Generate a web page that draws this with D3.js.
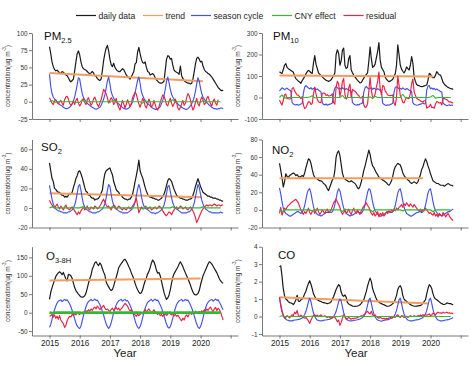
<!DOCTYPE html>
<html><head><meta charset="utf-8">
<script src="https://cdn.jsdelivr.net/npm/d3@7"></script>
<style>body{margin:0;background:#fff}svg{display:block;font-family:"Liberation Sans",Arial,sans-serif}</style>
</head><body><svg id="c" width="474" height="366"></svg>
<script>
// ---------- data (half-month steps from 2015.0 unless noted; CNY arrays are monthly) ----------
const yearTicks = [2015, 2016, 2017, 2018, 2019, 2020, 2021];
const yearLabels = [2015, 2016, 2017, 2018, 2019, 2020];
const legendNames = ["daily data", "trend", "season cycle", "CNY effect", "residual"];

const pm25Daily = [80,70,58,51,47,45,46,44,42,41,44,43,41,39,38,35,31,29,31,33,45,58,70,74,
68,58,51,48,47,46,44,42,41,42,44,42,38,37,34,32,31,33,45,60,70,78,82,74,
62,54,51,56,50,47,45,44,44,46,48,47,43,39,37,35,33,36,40,44,55,57,72,79,
70,62,57,56,58,50,44,43,39,40,41,39,35,32,30,28,27,27,28,30,46,62,67,66,
62,63,53,46,44,43,42,40,52,38,34,31,29,28,27,27,26,27,33,44,55,63,65,62,
58,59,52,47,44,43,41,40,38,36,33,30,27,24,21,19,17,16,17];
const pm25Trend = [[2015, 42], [2020.08, 30]];
const pm25Season = [40,22,12,7,4,2,0,-2,-4,-5,-6,-8,-9,-10,-10,-9,-8,-6,-3,1,7,15,25,35,
33,22,12,6,3,0,-2,-4,-5,-7,-8,-9,-10,-11,-10,-9,-8,-5,-1,4,10,20,30,36,
26,15,9,5,2,0,-2,-3,-5,-7,-8,-10,-10,-11,-10,-9,-7,-4,0,6,13,22,31,36,
27,15,9,5,2,-1,-3,-4,-6,-8,-9,-10,-11,-11,-10,-9,-7,-3,2,9,18,30,36,28,
18,11,7,4,1,-1,-3,-5,-6,-8,-9,-10,-11,-11,-10,-8,-6,-3,1,7,15,26,35,30,
20,12,7,4,1,-1,-3,-5,-6,-8,-9,-10,-10,-11,-10,-10,-9,-9,-10];
const pm25Cny = [0,2,-1,0,0,0,0,0,0,0,0,-1, -1,3,0,0,0,0,0,0,0,0,0,0, -1,2,1,0,0,0,0,0,0,0,0,0,
0,-2,2,0,0,0,0,0,0,0,0,0, 0,3,-1,0,0,0,0,0,0,0,0,0, -1,2,0,0,0,0,0,0,0];
const pm25Resid = [6,2,-2,-4,1,3,-1,-3,0,2,-2,-5,3,7,8,4,-2,-5,-3,1,-4,2,5,-2,
-6,-3,2,5,-1,-4,3,6,0,-5,-2,4,7,2,-4,-7,-2,3,10,18,15,12,6,-2,
2,6,3,-4,-1,5,-3,-8,-12,-5,2,-3,-9,-4,3,-2,-7,-3,6,10,14,11,4,-3,
-8,-2,5,1,-6,-9,-3,4,-1,-8,-5,2,-4,-10,-12,-7,-1,5,10,8,3,-4,
-6,1,5,-2,-7,-3,4,-1,-9,-12,-8,-3,2,-5,-2,6,12,9,3,-6,-12,-8,
-1,5,-3,-6,2,7,3,-4,-2,5,8,2,-3,-6,1,4,-2,-5,3];

const pm10Daily = [120,115,112,130,150,158,140,134,130,126,122,118,100,88,82,76,72,66,78,88,98,110,120,126,
122,115,112,160,195,155,135,115,108,102,96,90,85,80,78,75,78,82,92,100,115,200,222,205,
150,170,220,230,150,135,140,180,195,128,115,104,96,88,80,74,68,70,80,90,100,108,115,170,
235,180,140,145,155,185,215,255,175,140,130,120,95,85,78,74,76,80,85,98,110,150,245,200,
150,132,122,114,125,142,134,128,150,190,160,95,75,60,56,55,52,51,52,54,56,58,80,112,
108,97,92,92,105,120,112,105,104,88,70,62,56,51,47,44,42,40,38];
const pm10Trend = [[2015, 102], [2020.1, 98]];
const pm10Season = [30,38,45,42,36,40,44,38,35,30,-22,-30,-33,-35,-32,-36,-34,-30,-28,20,48,55,50,44,
40,46,38,42,45,36,40,34,30,25,-25,-32,-35,-30,-36,-33,-31,-29,-26,22,45,50,46,40,
44,38,46,40,36,42,38,35,32,28,-24,-30,-34,-36,-33,-35,-30,-28,-25,25,46,52,44,40,
42,46,38,44,40,36,41,37,33,28,-26,-32,-35,-37,-34,-36,-33,-30,-27,24,47,50,45,41,
43,38,45,40,36,42,39,34,31,27,-25,-31,-34,-36,-35,-33,-31,-29,-25,-30,-28,35,52,56,
40,45,38,43,36,40,35,32,28,24,-26,-32,-35,-38,-36,-34,-37,-35,-36];
const pm10Cny = [0,12,-3,0,0,0,0,0,0,0,0,0, 2,8,-2,0,0,0,0,0,0,0,0,0, 0,10,-4,0,0,0,0,0,0,0,0,0,
3,-5,6,0,0,0,0,0,0,0,0,0, 0,15,-2,0,0,0,0,0,0,0,0,0, 2,10,-3,0,0,0,0,0,0];
const pm10Resid = [-12,-25,-35,-14,12,16,-6,-6,-7,-6,42,46,31,21,12,10,4,-6,4,-34,-52,-47,-32,-20,
-20,-33,-28,16,48,17,-7,-20,-23,-24,20,21,19,9,13,7,8,10,17,-23,-31,49,75,64,
5,31,73,89,13,-8,1,44,62,-1,38,33,29,23,13,9,-2,-2,5,-35,-46,-44,-29,30,
93,34,2,1,15,49,74,118,42,12,56,52,30,22,12,10,9,10,12,-26,-37,0,100,59,
8,-5,-22,-25,-10,1,-4,-5,20,64,86,27,10,-3,-8,-11,-16,-19,-22,-15,-15,-50,-45,-43,
-31,-47,-45,-50,-30,-19,-22,-26,-23,-35,-3,-5,-8,-10,-16,-21,-20,-24,-25];

const so2Daily = [46,38,30,27,20,19,17,16,16,14,13,13,11,12,11,13,15,14,16,21,25,30,33,37,
38,35,31,26,21,17,16,13,13,11,10,10,8,9,9,10,12,15,18,28,35,38,39,40,
41,37,34,27,23,19,17,16,13,13,11,10,9,9,8,9,9,11,14,20,27,33,40,49,
38,34,31,26,21,17,14,12,11,11,10,10,9,9,8,8,9,10,12,14,18,23,28,30,
29,27,23,19,16,13,12,11,10,10,9,9,8,8,8,9,9,10,13,17,22,26,30,26,
22,19,16,15,14,13,12,12,11,11,10,10,10,9,9,8,8,7,7];
const so2Trend = [[2015, 15], [2020.05, 11]];
const so2Season = [23,16,9,4,1,-1,-2,-3,-3,-4,-4,-5,-5,-5,-5,-4,-4,-3,-2,0,3,8,15,22,
24,18,10,4,1,-1,-2,-3,-4,-4,-5,-5,-5,-5,-4,-4,-3,-2,-1,1,4,10,18,24,
22,14,7,3,0,-1,-2,-3,-4,-4,-5,-5,-5,-5,-5,-4,-3,-2,0,2,6,12,19,24,
20,12,6,2,0,-1,-2,-3,-4,-5,-5,-5,-6,-5,-5,-4,-3,-2,0,3,8,15,22,23,
17,10,5,2,0,-1,-2,-3,-4,-5,-5,-5,-5,-5,-4,-4,-3,-1,1,5,11,18,24,21,
14,8,4,1,-1,-2,-3,-4,-4,-5,-5,-5,-5,-5,-5,-5,-4,-5,-5];
const so2Cny = [0,1,0,0,0,0,0,0,0,0,0,0, 0,1,0,0,0,0,0,0,0,0,0,0, 0,1,0,0,0,0,0,0,0,0,0,0,
0,-1,1,0,0,0,0,0,0,0,0,0, 0,1,0,0,0,0,0,0,0,0,0,0, 0,1,0,0,0,0,0,0,0];
const so2Resid = [8,5,3,1,0,2,4,1,-1,2,0,-2,1,3,0,-1,-2,0,1,-1,-3,-5,-7,-4,
-6,-3,-1,1,-2,0,2,-1,-2,1,0,-1,2,1,-1,0,2,4,7,9,6,3,1,2,
0,-2,1,3,2,-1,0,2,1,-1,-2,0,-1,-2,0,1,-1,0,2,4,6,10,3,-5,
-2,1,0,-1,2,1,-1,0,1,-2,-1,0,1,-1,0,2,1,-1,-3,-5,-7,-8,-6,-4,
-5,-7,-4,-2,0,1,-1,0,2,1,-1,0,1,-1,-2,0,1,-1,-3,-6,-10,-15,-12,-9,
-6,-3,-1,1,2,3,2,3,3,2,3,4,3,2,3,3,2,3,3];

const no2Daily = [53,45,36,26,32,41,38,37,39,40,41,42,41,39,40,38,37,38,39,38,42,48,53,58,
57,53,46,40,37,36,35,34,33,33,32,30,29,27,24,22,26,30,34,36,45,60,65,67,
62,52,42,37,35,34,33,32,32,33,32,31,30,28,25,24,27,32,38,45,50,56,62,68,
63,55,50,48,45,42,40,37,36,35,34,33,32,31,29,28,30,33,38,45,49,51,53,52,
51,47,42,39,37,36,34,33,31,30,31,32,31,30,32,36,40,46,49,54,58,55,50,46,
41,37,33,32,31,30,30,29,28,28,28,27,28,29,30,29,28,28,27];
const no2Trend = [[2015, 36], [2019.75, 36]];
const no2Season = [25,18,9,2,-2,-4,-5,-6,-7,-7,-6,-5,-4,-3,-2,-2,-3,-4,-3,0,5,12,19,23,
24,19,11,4,-1,-3,-5,-6,-6,-7,-6,-5,-4,-3,-3,-2,-3,-3,-2,1,6,13,20,24,
22,15,8,2,-2,-4,-5,-6,-7,-6,-6,-5,-4,-3,-2,-3,-3,-4,-2,1,6,13,20,24,
23,17,9,3,-1,-3,-5,-6,-7,-7,-6,-5,-4,-3,-2,-2,-3,-3,-2,0,5,12,19,23,
24,18,10,3,-1,-4,-5,-6,-7,-7,-6,-5,-4,-3,-3,-2,-2,-3,-2,0,5,12,19,23,
24,17,9,3,-1,-3,-5,-6,-6,-7,-6,-5,-4,-3,-2,-2,-1,0,1];
const no2Cny = [0,-2,0,0,0,0,0,0,0,0,0,0, 0,-1,0,0,0,0,0,0,0,0,0,0, 0,-2,1,0,0,0,0,0,0,0,0,0,
0,-2,0,0,0,0,0,0,0,0,0,0, 0,-1,0,0,0,0,0,0,0,0,0,0, 0,-2,0,0,0,0,0,0,0];
const no2Resid = [-4,3,-6,-2,2,0,3,5,6,8,9,10,11,12,10,8,4,0,-3,-5,-2,-4,-1,2,
-3,-5,-2,0,-4,-1,2,-2,-5,-3,0,-2,-4,-1,1,-3,-2,0,4,8,10,12,9,6,
3,-2,-5,-3,0,-4,-2,1,-3,-5,-1,2,-2,-4,0,-3,-5,-1,2,4,6,8,5,3,
-1,-4,-6,-3,-7,-5,-2,-8,-4,-6,-3,-7,-5,-2,-4,-1,-3,0,-2,1,-1,2,0,3,
4,6,3,7,5,8,6,4,7,5,3,6,4,2,0,-1,1,-2,0,-1,2,0,-2,-4,
-3,-5,-6,-3,-7,-5,-8,-4,-6,-7,-3,-5,-8,-6,-4,-7,-9,-11,-12];

const o3Daily = [36,55,68,78,88,98,104,108,111,108,103,109,100,92,86,104,103,100,93,80,68,60,55,50,
46,43,42,43,46,53,66,80,92,102,118,126,135,138,132,128,135,130,120,110,102,84,76,70,
64,60,63,72,85,96,108,122,128,133,138,143,145,140,133,125,118,108,100,92,80,70,62,56,
52,54,62,75,86,95,105,112,122,135,143,138,128,115,107,109,100,85,70,55,44,36,40,48,
62,80,96,106,112,118,124,132,138,132,125,116,108,100,92,84,75,64,56,50,48,49,52,60,
75,88,100,108,116,124,132,138,136,132,126,120,114,108,100,92,86,82,80];
const o3Trend = [[2015, 87], [2020, 93]];
const o3Season = [-40,-32,-18,-4,8,18,26,31,33,35,30,33,36,33,35,30,24,16,6,-5,-17,-28,-36,-41,
-43,-36,-22,-8,5,16,25,30,33,36,32,34,37,33,34,28,22,14,4,-7,-19,-30,-38,-43,
-38,-28,-14,-1,11,21,28,32,34,36,31,34,36,32,33,27,20,12,2,-9,-21,-32,-39,-43,
-38,-28,-14,0,12,21,28,31,34,36,31,34,37,33,34,28,21,13,3,-8,-20,-31,-39,-42,
-38,-28,-14,0,12,22,28,32,34,36,31,33,36,33,34,28,21,13,3,-8,-20,-31,-39,-43,
-38,-28,-14,0,12,22,28,32,34,36,31,34,37,33,35,28,22,14,8];
const o3Cny = [0,-1,0,0,0,0,0,0,0,0,0,0, 0,-1,0,0,0,0,0,0,0,0,0,0, 0,-1,0,0,0,0,0,0,0,0,0,0,
0,-1,0,0,0,0,0,0,0,0,0,0, 0,-1,0,0,0,0,0,0,0,0,0,0, 0,-1,0,0,0,0,0,0,0];
const o3Resid = [-10,-8,-5,-12,-6,-15,-10,-18,-8,-20,-25,-30,-40,-35,-22,-15,-10,-12,-5,-8,-2,-6,0,-3,
-5,0,-3,2,0,5,3,8,4,10,6,12,15,10,18,14,8,12,16,20,12,8,10,6,
4,8,12,6,10,14,8,12,6,10,15,20,25,22,18,10,5,8,2,-3,-6,-10,-4,-8,
-5,0,-3,4,8,2,6,10,5,-1,3,8,2,-2,-5,0,-8,-5,-10,-6,-3,-8,-4,-1,
-3,-6,-2,-9,-5,-10,-7,-12,-18,-22,-15,-20,-10,-6,-12,-4,0,-5,2,-3,4,0,-2,3,
0,5,2,8,4,10,6,12,15,8,3,10,14,6,12,8,2,-10,-20];

const coDaily = [2.85,2.9,2.3,1.6,1.2,1.0,0.95,0.85,0.8,0.78,0.75,0.68,0.8,0.95,1.22,0.88,0.87,0.95,1.0,1.12,1.3,1.45,1.7,1.9,
2.05,1.85,1.6,1.3,1.15,1.0,0.96,0.92,0.88,0.86,0.82,0.8,0.78,0.76,0.74,0.76,0.78,0.85,1.0,1.15,1.35,1.55,1.7,1.83,
1.75,1.4,1.22,1.16,1.24,1.1,0.8,0.72,0.68,0.64,0.6,0.59,0.58,0.59,0.6,0.63,0.67,0.75,0.85,0.97,1.2,1.44,1.75,2.0,
2.2,2.0,1.6,1.38,1.2,1.0,0.9,0.82,0.78,0.74,0.7,0.68,0.64,0.6,0.59,0.6,0.63,0.68,0.74,0.8,1.0,1.2,1.55,1.7,
1.77,1.6,1.2,1.0,0.92,0.88,0.82,0.74,0.68,0.65,0.62,0.6,0.59,0.6,0.61,0.62,0.63,0.68,0.75,0.87,0.95,1.3,1.6,1.83,
1.75,1.6,1.3,1.1,1.0,0.96,0.9,0.84,0.78,0.74,0.7,0.69,0.72,0.78,0.76,0.74,0.74,0.7,0.68];
const coTrend = [[2015, 1.1], [2019.95, 0.75]];
const coSeason = [1.1,0.7,0.35,0.1,-0.05,-0.15,-0.2,-0.22,-0.25,-0.25,-0.25,-0.22,-0.2,-0.2,-0.18,-0.17,-0.15,-0.12,-0.08,0,0.12,0.3,0.55,0.85,
1.05,0.85,0.5,0.2,0,-0.12,-0.2,-0.22,-0.24,-0.25,-0.24,-0.22,-0.2,-0.2,-0.18,-0.17,-0.15,-0.12,-0.08,0,0.12,0.3,0.55,0.85,
1.0,0.9,0.55,0.22,0,-0.12,-0.2,-0.23,-0.25,-0.25,-0.24,-0.22,-0.21,-0.2,-0.18,-0.16,-0.14,-0.1,-0.05,0.02,0.15,0.35,0.65,0.95,
1.05,0.75,0.4,0.15,-0.02,-0.13,-0.2,-0.23,-0.25,-0.26,-0.24,-0.22,-0.2,-0.19,-0.18,-0.16,-0.13,-0.1,-0.05,0.02,0.15,0.35,0.65,0.95,
1.05,0.75,0.4,0.15,-0.02,-0.13,-0.2,-0.23,-0.25,-0.25,-0.24,-0.22,-0.2,-0.19,-0.18,-0.16,-0.13,-0.1,-0.05,0.02,0.15,0.35,0.65,0.95,
1.05,0.75,0.4,0.15,-0.02,-0.13,-0.2,-0.23,-0.25,-0.25,-0.24,-0.22,-0.2,-0.19,-0.18,-0.16,-0.13,-0.1,-0.06];
const coCny = [0,0.04,0,0,0,0,0,0,0,0,0,0, 0,0.03,0,0,0,0,0,0,0,0,0,0, 0,0.04,0,0,0,0,0,0,0,0,0,0,
0,0.03,0,0,0,0,0,0,0,0,0,0, 0,0.04,0,0,0,0,0,0,0,0,0,0, 0,0.03,0,0,0,0,0,0,0];
const coResid = [1.1,0.6,0.25,0.05,-0.1,-0.05,0.05,0,-0.08,0.02,0.1,0.05,0.25,0.15,0.35,0.05,0,0.08,0.02,-0.05,-0.1,-0.05,-0.15,-0.25,
-0.4,-0.2,-0.05,0.05,0.1,0.02,0.08,0,0.05,0.1,0.02,0,0.05,-0.02,-0.05,0,-0.05,-0.1,-0.05,0,-0.05,-0.15,-0.3,-0.2,
-0.5,-0.35,-0.1,0.1,0,-0.15,-0.12,-0.05,-0.1,-0.15,-0.1,-0.12,-0.08,-0.1,-0.05,-0.02,0,0.05,0.02,0.1,0.15,0.25,0.3,0.2,
0.15,0.3,0.1,0.05,0.1,0,-0.05,-0.1,-0.05,-0.08,-0.12,-0.1,-0.15,-0.1,-0.12,-0.08,-0.05,-0.1,-0.05,0,-0.05,0.05,0.1,0,
-0.05,0.05,0,-0.05,0,0.02,-0.05,0,0.05,0.02,0,0.05,0.02,0,0.05,0.03,0.08,0.05,0.1,0.05,0.12,0.08,0.1,0.15,
0.05,0.1,0.2,0.15,0.1,0.2,0.25,0.2,0.22,0.18,0.25,0.2,0.22,0.25,0.2,0.22,0.18,0.2,0.15];

// ---------- layout ----------
const svg = d3.select("#c");
const colors = {daily:"#1a1a1a", trend:"#f39c60", season:"#4353e6", cny:"#33b833", resid:"#ee1f42"};
const cols = [{axisX:32, x2015:49.5, right:238, labelX:7.5, yearX:125},
              {axisX:262, x2015:279.5, right:468, labelX:237.5, yearX:356}];
const rows = [{top:33, bottom:119}, {top:139.5, bottom:227.5}, {top:246.7, bottom:335.5}];
const pxPerYear = 30.2;

const panels = [
 {title:"PM", sub:"2.5", col:0, row:0, domain:[-25,100], ticks:[-25,0,25,50,75,100], unit:"ug", tx:44, ty:39.5,
  daily:pm25Daily, trend:pm25Trend, season:pm25Season, cny:pm25Cny, resid:pm25Resid, cnyW:1.1},
 {title:"PM", sub:"10", col:1, row:0, domain:[-100,300], ticks:[-100,0,100,200,300], unit:"ug", tx:273, ty:40,
  daily:pm10Daily, trend:pm10Trend, season:pm10Season, cny:pm10Cny, resid:pm10Resid, cnyW:1.1},
 {title:"SO", sub:"2", col:0, row:1, domain:[-20,70], ticks:[-20,0,20,40,60], unit:"ug", tx:41, ty:151,
  daily:so2Daily, trend:so2Trend, season:so2Season, cny:so2Cny, resid:so2Resid, cnyW:1.3},
 {title:"NO", sub:"2", col:1, row:1, domain:[-20,80], ticks:[-20,0,20,40,60,80], unit:"ug", tx:272, ty:154,
  daily:no2Daily, trend:no2Trend, season:no2Season, cny:no2Cny, resid:no2Resid, cnyW:1.3},
 {title:"O", sub:"3-8H", col:0, row:2, domain:[-62,179], ticks:[-50,0,50,100,150], unit:"ug", tx:46, ty:260,
  daily:o3Daily, trend:o3Trend, season:o3Season, cny:o3Cny, resid:o3Resid, cnyW:2.6},
 {title:"CO", sub:"", col:1, row:2, domain:[-1.086,4], ticks:[-1,0,1,2,3,4], unit:"mg", tx:278, ty:258.5,
  daily:coDaily, trend:coTrend, season:coSeason, cny:coCny, resid:coResid, cnyW:1.1}
];

panels.forEach(p => {
  const c = cols[p.col], r = rows[p.row];
  const x = d3.scaleLinear()
    .domain([2015 - (c.x2015 - c.axisX) / pxPerYear, 2015 + (c.right - c.x2015) / pxPerYear])
    .range([c.axisX, c.right]);
  const y = d3.scaleLinear().domain(p.domain).range([r.bottom, r.top]);
  const g = svg.append("g");

  // axes
  const xa = d3.axisBottom(x).tickValues(yearTicks).tickSize(3).tickSizeOuter(0).tickPadding(1.5)
     .tickFormat(d => (p.row === 2 && yearLabels.includes(d)) ? String(d) : "");
  const gx = g.append("g").attr("transform", `translate(0,${r.bottom})`).call(xa);
  gx.selectAll("text").attr("font-size", 8.2).attr("fill", "#222");
  const ya = d3.axisLeft(y).tickValues(p.ticks).tickSize(3).tickSizeOuter(0).tickPadding(1.5)
     .tickFormat(d => String(d));
  const gy = g.append("g").attr("transform", `translate(${c.axisX},0)`).call(ya);
  gy.selectAll("text").attr("font-size", 6.4).attr("fill", "#333");
  g.selectAll(".domain, .tick line").attr("stroke", "#555").attr("stroke-width", 0.8);

  // y label
  const lab = g.append("text")
    .attr("transform", `translate(${c.labelX},${(r.top + r.bottom) / 2}) rotate(-90)`)
    .attr("text-anchor", "middle").attr("dominant-baseline", "middle")
    .attr("font-size", 6.5).attr("fill", "#333");
  lab.append("tspan").text(`concentration(${p.unit} m`);
  lab.append("tspan").attr("font-size", 4.6).attr("dy", -2.5).text("-3");
  lab.append("tspan").attr("dy", 2.5).text(")");

  // year label
  if (p.row === 2) {
    g.append("text").attr("x", c.yearX).attr("y", 357).attr("text-anchor", "middle")
      .attr("font-size", 11.5).attr("fill", "#222").text("Year");
  }

  // title
  const t = g.append("text").attr("x", p.tx).attr("y", p.ty).attr("font-size", 11.5).attr("fill", "#111");
  t.append("tspan").text(p.title);
  if (p.sub) t.append("tspan").attr("font-size", 7.5).attr("dy", 3).text(p.sub);

  // series
  const pts = (arr, per) => arr.map((v, i) => [2015 + i / per, v]);
  const line = d3.line().x(d => x(d[0])).y(d => y(d[1]));
  const draw = (data, color, w) => g.append("path").datum(data).attr("d", line)
     .attr("fill", "none").attr("stroke", color).attr("stroke-width", w).attr("stroke-linejoin", "round");
  draw(pts(p.daily, 24), colors.daily, 1.2);
  draw(p.trend, colors.trend, 2);
  draw(pts(p.season, 24), colors.season, 1.15);
  draw(pts(p.resid, 24), colors.resid, 1.15);
  draw(pts(p.cny, 12), colors.cny, p.cnyW);
});

// legend
const legendKeys = ["daily", "trend", "season", "cny", "resid"];
const legendX = [76, 143, 191, 272, 343.5];
const lg = svg.append("g");
legendKeys.forEach((k, i) => {
  lg.append("line").attr("x1", legendX[i]).attr("x2", legendX[i] + 20).attr("y1", 15.5).attr("y2", 15.5)
    .attr("stroke", colors[k]).attr("stroke-width", 1.2);
  lg.append("text").attr("x", legendX[i] + 22.5).attr("y", 18.5).attr("font-size", 8.6).attr("fill", "#222")
    .text(legendNames[i]);
});
</script></body></html>
